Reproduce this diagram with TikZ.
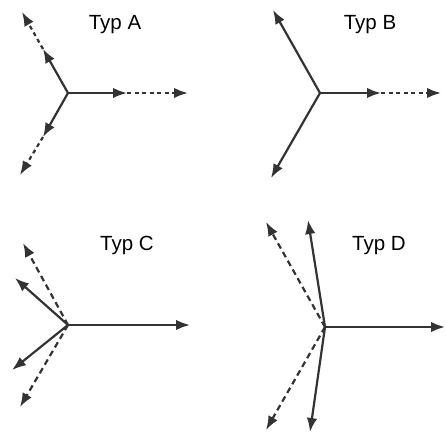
\documentclass[tikz,border=0pt]{standalone}
\usepackage{fontspec}
\setmainfont{Liberation Sans}
\usetikzlibrary{arrows.meta}
\begin{document}
\begin{tikzpicture}[x=1pt,y=-1pt,
  vec/.style={draw=black!80,line width=2.2pt,-{Latex[length=14pt,width=10.5pt]}},
  dotvec/.style={vec,dash pattern=on 4pt off 3.5pt},
  dashvec/.style={vec,dash pattern=on 6pt off 4pt},
  lbl/.style={font=\fontsize{20.5}{24}\selectfont,inner sep=0pt}]
\useasboundingbox (0,0) rectangle (446,435);
% Typ A
\coordinate (a) at (68,93);
\coordinate (a1) at (127,93); \coordinate (a2) at (188,93);
\coordinate (a3) at (43,49);  \coordinate (a4) at (22,12);
\coordinate (a5) at (43,137); \coordinate (a6) at (20,175);
\draw[vec] (a) -- (a1); \draw[dotvec] (a1) -- (a2);
\draw[vec] (a) -- (a3); \draw[dotvec] (a3) -- (a4);
\draw[vec] (a) -- (a5); \draw[dotvec] (a5) -- (a6);
\node[lbl] (ta) at (115,25) {Typ A};
% Typ B
\coordinate (b) at (320,93);
\coordinate (b1) at (381,93); \coordinate (b2) at (441,93);
\coordinate (b3) at (273,10); \coordinate (b4) at (271,178);
\draw[vec] (b) -- (b1); \draw[dotvec] (b1) -- (b2);
\draw[vec] (b) -- (b3);
\draw[vec] (b) -- (b4);
\node[lbl] (tb) at (370,25) {Typ B};
% Typ C
\coordinate (c) at (68,325);
\coordinate (c1) at (190,325);
\coordinate (c2) at (15,278); \coordinate (c3) at (23,243);
\coordinate (c4) at (12,370); \coordinate (c5) at (20,407);
\draw[vec] (c) -- (c1);
\draw[vec] (c) -- (c2); \draw[dashvec] (c) -- (c3);
\draw[vec] (c) -- (c4); \draw[dashvec] (c) -- (c5);
\node[lbl] (tc) at (127,245) {Typ C};
% Typ D
\coordinate (d) at (325,327);
\coordinate (d1) at (445,327);
\coordinate (d2) at (308,220); \coordinate (d3) at (266,222);
\coordinate (d4) at (310,432); \coordinate (d5) at (266,430);
\draw[vec] (d) -- (d1);
\draw[vec] (d) -- (d2); \draw[dashvec] (d) -- (d3);
\draw[vec] (d) -- (d4); \draw[dashvec] (d) -- (d5);
\node[lbl] (td) at (379,246) {Typ D};
\end{tikzpicture}
\end{document}
